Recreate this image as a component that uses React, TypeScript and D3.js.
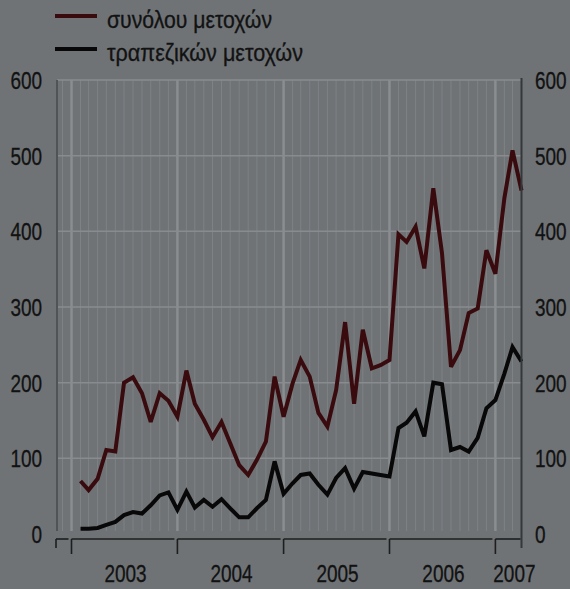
import React from "react";
import * as d3 from "d3";

const W = 570;
const H = 589;

const legendLabels = ["συνόλου μετοχών", "τραπεζικών μετοχών"];
const yTicks = [0, 100, 200, 300, 400, 500, 600];
const yearLabels = ["2003", "2004", "2005", "2006", "2007"];
const firstMonth = "2003-01";
const lastMonth = "2007-03";

// συνόλου μετοχών (monthly, Jan 2003 – Mar 2007)
const totalShares = [
  70, 58, 73, 111, 109, 200, 207, 186, 148, 186, 176, 155,
  216, 172, 151, 128, 148, 120, 91, 78, 98, 122, 208, 155,
  199, 230, 208, 160, 142, 190, 280, 172, 270, 219, 223, 230,
  396, 386, 406, 351, 457, 371, 221, 243, 292, 298, 375, 344,
  444, 507, 454,
];
// τραπεζικών μετοχών
const bankShares = [
  7, 7, 8, 12, 16, 25, 29, 27, 38, 51, 55, 32,
  56, 35, 45, 36, 46, 34, 22, 22, 34, 45, 96, 53,
  67, 78, 80, 65, 52, 74, 87, 60, 82, 80, 78, 76,
  140, 147, 162, 129, 200, 198, 111, 115, 109, 127, 166, 177,
  212, 247, 228,
];

const FONT = "'Liberation Sans', Arial, sans-serif";
const BG = "#6f7376";
const TEXT = "#121212";
const COLORS = ["#3a0b0e", "#080808"];
const SX = 0.79; // narrow type

function NarrowText(props: { x: number; y: number; anchor: "start" | "middle" | "end"; children: React.ReactNode }) {
  return (
    <text
      transform={`translate(${props.x},${props.y}) scale(${SX},1)`}
      textAnchor={props.anchor}
      fontFamily={FONT}
      fontSize={24}
      fill={TEXT}
      stroke={TEXT}
      strokeWidth={0.3}
    >
      {props.children}
    </text>
  );
}

export default function App() {
  const parse = d3.timeParse("%Y-%m");
  const months = d3.timeMonth.range(parse(firstMonth)!, d3.timeMonth.offset(parse(lastMonth)!, 1));
  // each monthly value is plotted at the end of its month
  const pointDates = months.map((m) => d3.timeMonth.offset(m, 1));

  const domainStart = new Date(2002, 10, 12);
  const domainEnd = pointDates[pointDates.length - 1];

  const left = 57;
  const right = 521.5;
  const top = 80;
  const bottom = 534;

  const x = d3.scaleTime().domain([domainStart, domainEnd]).range([left, right]);
  const y = d3.scaleLinear().domain([0, 600]).range([bottom, top]);

  const line = d3
    .line<number>()
    .x((_, i) => x(pointDates[i]))
    .y((d) => y(d))
    .curve(d3.curveLinear);

  const monthLines = d3.timeMonth.range(d3.timeMonth.ceil(domainStart), domainEnd);
  const yearStarts = yearLabels.map((yl) => new Date(+yl, 0, 1));

  const axisY = 539;

  const segments: { x0: number; x1: number; tick: boolean }[] = [];
  segments.push({ x0: left - 1, x1: x(yearStarts[0]) - 3, tick: false });
  yearStarts.forEach((ys, i) => {
    const next = i < yearStarts.length - 1 ? yearStarts[i + 1] : domainEnd;
    segments.push({ x0: x(ys), x1: x(next) - (i < yearStarts.length - 1 ? 3 : 1), tick: true });
  });

  const series = [totalShares, bankShares];
  const legendWidths = [165, 196];

  return (
    <svg width={W} height={H} style={{ display: "block", position: "absolute", left: 0, top: 0 }}>
      <rect x={0} y={0} width={W} height={H} fill={BG} />

      {monthLines.map((m, i) => {
        const isYear = m.getMonth() === 0;
        return (
          <line
            key={"m" + i}
            x1={x(m)}
            x2={x(m)}
            y1={top}
            y2={bottom - 3}
            stroke={isYear ? "#8a8e91" : "#7e8285"}
            strokeWidth={isYear ? 2.5 : 1}
          />
        );
      })}

      {yTicks.filter((t) => t > 0).map((t) => (
        <line key={"h" + t} x1={left} x2={right} y1={y(t)} y2={y(t)} stroke="#888c8f" strokeWidth={1.5} />
      ))}

      <line x1={left} x2={left} y1={top} y2={bottom - 3} stroke="#4f5457" strokeWidth={2} />

      {series.map((s, k) => (
        <path
          key={"s" + k}
          d={line(s) || ""}
          fill="none"
          stroke={COLORS[k]}
          strokeWidth={4}
          strokeLinejoin="miter"
          strokeMiterlimit={3}
        />
      ))}

      <line x1={right} x2={right} y1={top - 2} y2={548} stroke="#35383b" strokeWidth={2} />

      {segments.map((sg, i) => (
        <g key={"seg" + i}>
          <line x1={sg.x0} x2={sg.x1} y1={axisY} y2={axisY} stroke="#1e1e1e" strokeWidth={1.6} />
          <line x1={sg.x0} x2={sg.x0} y1={axisY} y2={sg.tick ? 554 : 548} stroke="#1e1e1e" strokeWidth={1.6} />
        </g>
      ))}

      {yTicks.map((t) => (
        <g key={"yl" + t}>
          <NarrowText x={42} y={y(t) + 9} anchor="end">
            {t}
          </NarrowText>
          <NarrowText x={535} y={y(t) + 9} anchor="start">
            {t}
          </NarrowText>
        </g>
      ))}

      {yearStarts.map((ys, i) => {
        const next = i < yearStarts.length - 1 ? yearStarts[i + 1] : domainEnd;
        const mid = (x(ys) + x(next)) / 2;
        const cx = Math.max(mid, x(ys) + 18);
        return (
          <NarrowText key={"yr" + i} x={cx + 1} y={582} anchor="middle">
            {yearLabels[i]}
          </NarrowText>
        );
      })}

      {legendLabels.map((lab, i) => (
        <g key={"lg" + i}>
          <line x1={55} x2={97} y1={16 + i * 33} y2={16 + i * 33} stroke={COLORS[i]} strokeWidth={4} />
          <text
            x={107}
            y={27.5 + i * 33}
            fontFamily={FONT}
            fontSize={23}
            fill={TEXT}
            stroke={TEXT}
            strokeWidth={0.3}
            textLength={legendWidths[i]}
            lengthAdjust="spacingAndGlyphs"
          >
            {lab}
          </text>
        </g>
      ))}
    </svg>
  );
}
